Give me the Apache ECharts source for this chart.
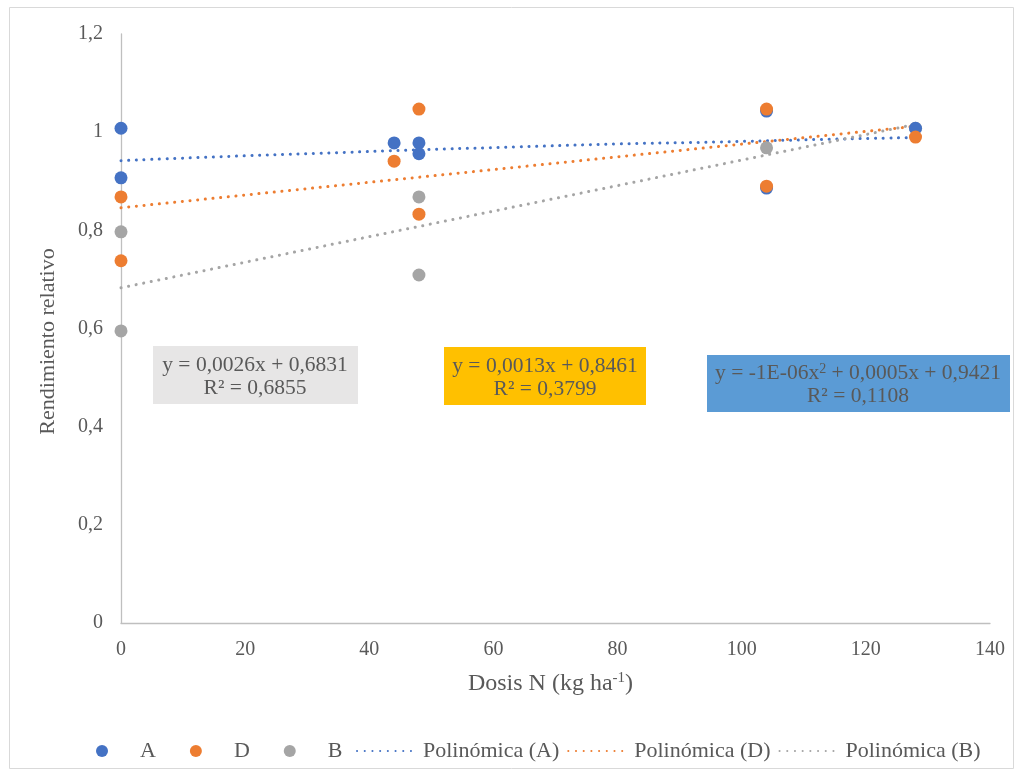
<!DOCTYPE html>
<html>
<head>
<meta charset="utf-8">
<script src="https://cdn.jsdelivr.net/npm/echarts@6/dist/echarts.min.js"></script>
<style>html,body{margin:0;padding:0;background:#fff}#c{width:1023px;height:776px}</style>
</head>
<body>
<div id="c"></div>
<script>
// Scatter data (x = Dosis N, y = Rendimiento relativo)
const xA = [0, 0, 44, 48, 48, 104, 104, 128];
const yA = [1.008, 0.907, 0.978, 0.978, 0.956, 1.043, 0.886, 1.008];
const xD = [0, 0, 44, 48, 48, 104, 104, 128];
const yD = [0.868, 0.738, 0.941, 1.047, 0.833, 1.047, 0.890, 0.990];
const xB = [0, 0, 48, 48, 104, 128];
const yB = [0.797, 0.595, 0.868, 0.709, 0.968, 1.008];
// Trend lines
const trendAX = [0, 16, 32, 48, 64, 80, 96, 112, 128];
const trendAY = [0.942, 0.950, 0.957, 0.964, 0.970, 0.976, 0.980, 0.985, 0.989];
const trendDX = [0, 128];
const trendDY = [0.846, 1.012];
const trendBX = [0, 128];
const trendBY = [0.683, 1.016];
// Tick settings
const xTicks = {min: 0, max: 140, interval: 20};
const yTicks = {min: 0, max: 1.2, interval: 0.2};
// Equation labels
const eqB = ['y = 0,0026x + 0,6831', 'R² = 0,6855'];
const eqD = ['y = 0,0013x + 0,8461', 'R² = 0,3799'];
const eqA = ['y = -1E-06x{sup|2} + 0,0005x + 0,9421', 'R² = 0,1108'];

const FONT = '"Liberation Serif", "Times New Roman", serif';
const TXT = '#595959';
const cA = '#4472c4', cD = '#ed7d31', cB = '#a5a5a5';
const zip = (xs, ys) => xs.map((x, i) => [x, ys[i]]);

const chart = echarts.init(document.getElementById('c'), null, {renderer: 'canvas'});

function dotted(color) {
  return {color: color, width: 3, type: [0.1, 7.6], cap: 'round'};
}

function eqBox(left, top, w, h, fill, lines, y1, y2, cx) {
  return [
    {type: 'rect', shape: {x: left, y: top, width: w, height: h}, style: {fill: fill}, z: 10},
    {type: 'text', x: cx, y: y1, z: 11, style: {text: lines[0], fill: TXT, font: '21.5px ' + FONT, align: 'center', verticalAlign: 'middle',
      rich: {sup: {fontSize: 14, fill: TXT, fontFamily: FONT, verticalAlign: 'top', padding: [0, 0, 8, 0]}}}},
    {type: 'text', x: cx, y: y2, z: 11, style: {text: lines[1], fill: TXT, font: '21.5px ' + FONT, align: 'center', verticalAlign: 'middle'}}
  ];
}

const option = {
  backgroundColor: '#fff',
  animation: false,
  grid: {left: 121, right: 33, top: 34, bottom: 153, containLabel: false},
  xAxis: {
    type: 'value', min: xTicks.min, max: xTicks.max, interval: xTicks.interval,
    name: 'Dosis N (kg ha{sup|-1})', nameLocation: 'middle', nameGap: 48,
    nameTextStyle: {color: TXT, fontFamily: FONT, fontSize: 24, padding: [0, 10, 0, 0],
      rich: {sup: {fontSize: 15, color: TXT, fontFamily: FONT, verticalAlign: 'top', padding: [0, 0, 10, 0]}}},
    axisLine: {show: true, lineStyle: {color: '#bfbfbf', width: 1.3}},
    axisTick: {show: false},
    splitLine: {show: false},
    axisLabel: {color: TXT, fontFamily: FONT, fontSize: 20, margin: 17}
  },
  yAxis: {
    type: 'value', min: yTicks.min, max: yTicks.max, interval: yTicks.interval,
    name: 'Rendimiento relativo', nameLocation: 'middle', nameGap: 62,
    nameTextStyle: {color: TXT, fontFamily: FONT, fontSize: 22, padding: [0, 26, 0, 0]},
    axisLine: {show: true, lineStyle: {color: '#bfbfbf', width: 1.3}},
    axisTick: {show: false},
    splitLine: {show: false},
    axisLabel: {color: TXT, fontFamily: FONT, fontSize: 20, margin: 18,
      formatter: v => String(Number(v.toFixed(1))).replace('.', ',')}
  },
  legend: [
    {
      data: ['A', 'D', 'B'], left: 91, top: 735, orient: 'horizontal',
      icon: 'circle', itemWidth: 12, itemHeight: 12, itemGap: 34,
      textStyle: {color: TXT, fontFamily: FONT, fontSize: 22, padding: [0, 0, 0, 27]}
    },
    {
      data: ['Polinómica (A)', 'Polinómica (D)', 'Polinómica (B)'], left: 351, top: 735,
      itemWidth: 58, itemHeight: 12, itemGap: 8,
      itemStyle: {opacity: 0},
      textStyle: {color: TXT, fontFamily: FONT, fontSize: 22, padding: [0, 0, 0, 3]}
    }
  ],
  graphic: [
    {type: 'rect', shape: {x: 9.5, y: 7.5, width: 1004, height: 761}, style: {fill: null, stroke: '#d9d9d9', lineWidth: 1}, silent: true},
    ...eqBox(153, 346, 205, 58, '#e7e6e6', eqB, 365, 388, 255),
    ...eqBox(444, 347, 202, 58, '#ffc000', eqD, 366, 389, 545),
    ...eqBox(707, 355, 303, 57, '#5b9bd5', eqA, 373, 396, 858)
  ],
  series: [
    {name: 'Polinómica (A)', type: 'line', data: zip(trendAX, trendAY), smooth: true, symbol: 'none', lineStyle: dotted(cA), itemStyle: {color: cA}, z: 2},
    {name: 'Polinómica (D)', type: 'line', data: zip(trendDX, trendDY), symbol: 'none', lineStyle: dotted(cD), itemStyle: {color: cD}, z: 2},
    {name: 'Polinómica (B)', type: 'line', data: zip(trendBX, trendBY), symbol: 'none', lineStyle: dotted(cB), itemStyle: {color: cB}, z: 2},
    {name: 'B', type: 'scatter', data: zip(xB, yB), symbolSize: 13, itemStyle: {color: cB, opacity: 1}, z: 3},
    {name: 'A', type: 'scatter', data: zip(xA, yA), symbolSize: 13, itemStyle: {color: cA, opacity: 1}, z: 4},
    {name: 'D', type: 'scatter', data: zip(xD, yD), symbolSize: 13, itemStyle: {color: cD, opacity: 1}, z: 5}
  ]
};
chart.setOption(option);
</script>
</body>
</html>
